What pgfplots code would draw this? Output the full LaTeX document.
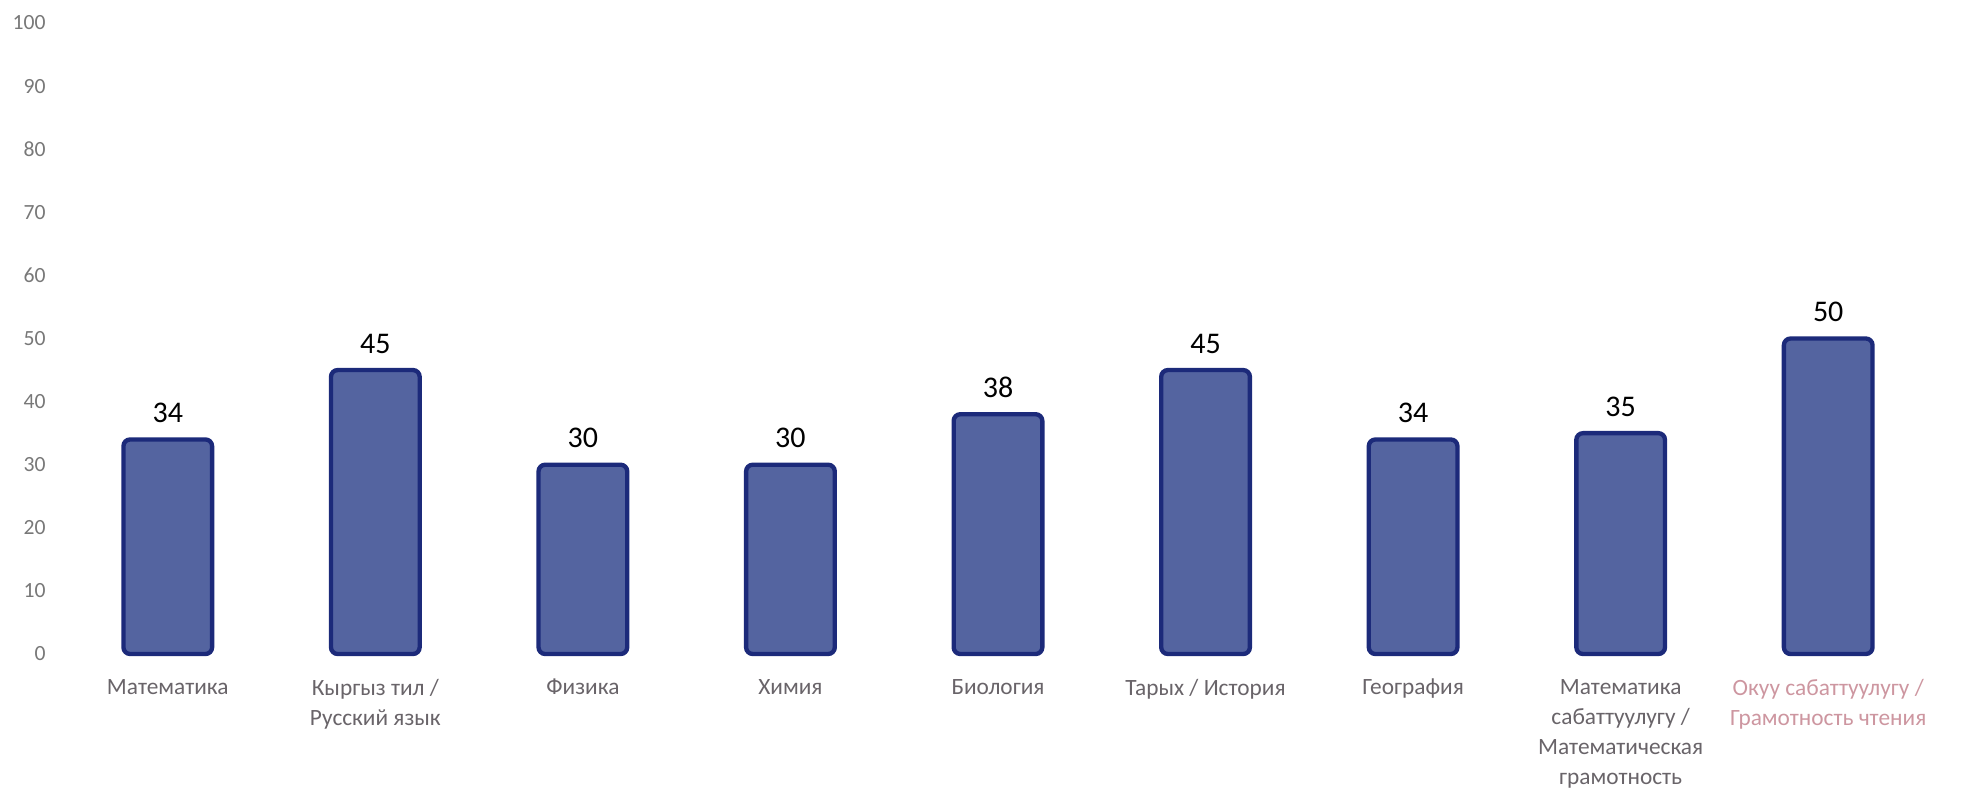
\documentclass[border=0pt]{standalone}
\usepackage{fontspec}
\setmainfont{Carlito}
\usepackage{pgfplots}
\pgfplotsset{compat=1.18}
\definecolor{barfill}{RGB}{84,100,160}
\definecolor{bardraw}{RGB}{28,42,122}
\definecolor{ticktext}{RGB}{120,120,120}
\definecolor{cattext}{RGB}{105,100,105}
\definecolor{pinktext}{RGB}{205,150,160}
\begin{document}
\begin{tikzpicture}
\begin{axis}[
  at={(0,0)}, anchor=south west,
  scale only axis,
  width=560.4pt, height=189.3pt,
  xmin=-0.5, xmax=8.5, ymin=0, ymax=100,
  ytick={0,10,...,100},
  xtick={0,...,8},
  xticklabels={Математика,{Кыргыз тил /\\Русский язык},Физика,Химия,Биология,{Тарых / История},География,{Математика\\сабаттуулугу /\\Математическая\\грамотность},{\textcolor{pinktext}{Окуу сабаттуулугу /}\\\textcolor{pinktext}{Грамотность чтения}}},
  axis line style={draw=none},
  major tick length=0pt,
  /pgf/number format/assume math mode=true,
  yticklabel style={font=\fontsize{6.5}{7}\selectfont, text=ticktext, anchor=east, xshift=-2pt},
  xticklabel style={font=\fontsize{7}{9}\selectfont, text=cattext, align=center, anchor=north, yshift=-4pt},
  ybar, bar width=26.6pt,
  nodes near coords,
  nodes near coords style={font=\fontsize{9}{10}\selectfont, text=black, yshift=1pt},
  clip=false,
]
\addplot[fill=barfill, draw=bardraw, line width=1.3pt, rounded corners=2pt] coordinates {
(0,34) (1,45) (2,30) (3,30) (4,38) (5,45) (6,34) (7,35) (8,50)};
\end{axis}
\pgfresetboundingbox
\useasboundingbox (-19.2pt,-40.5pt) rectangle (576pt,196.2pt);
\end{tikzpicture}
\end{document}
